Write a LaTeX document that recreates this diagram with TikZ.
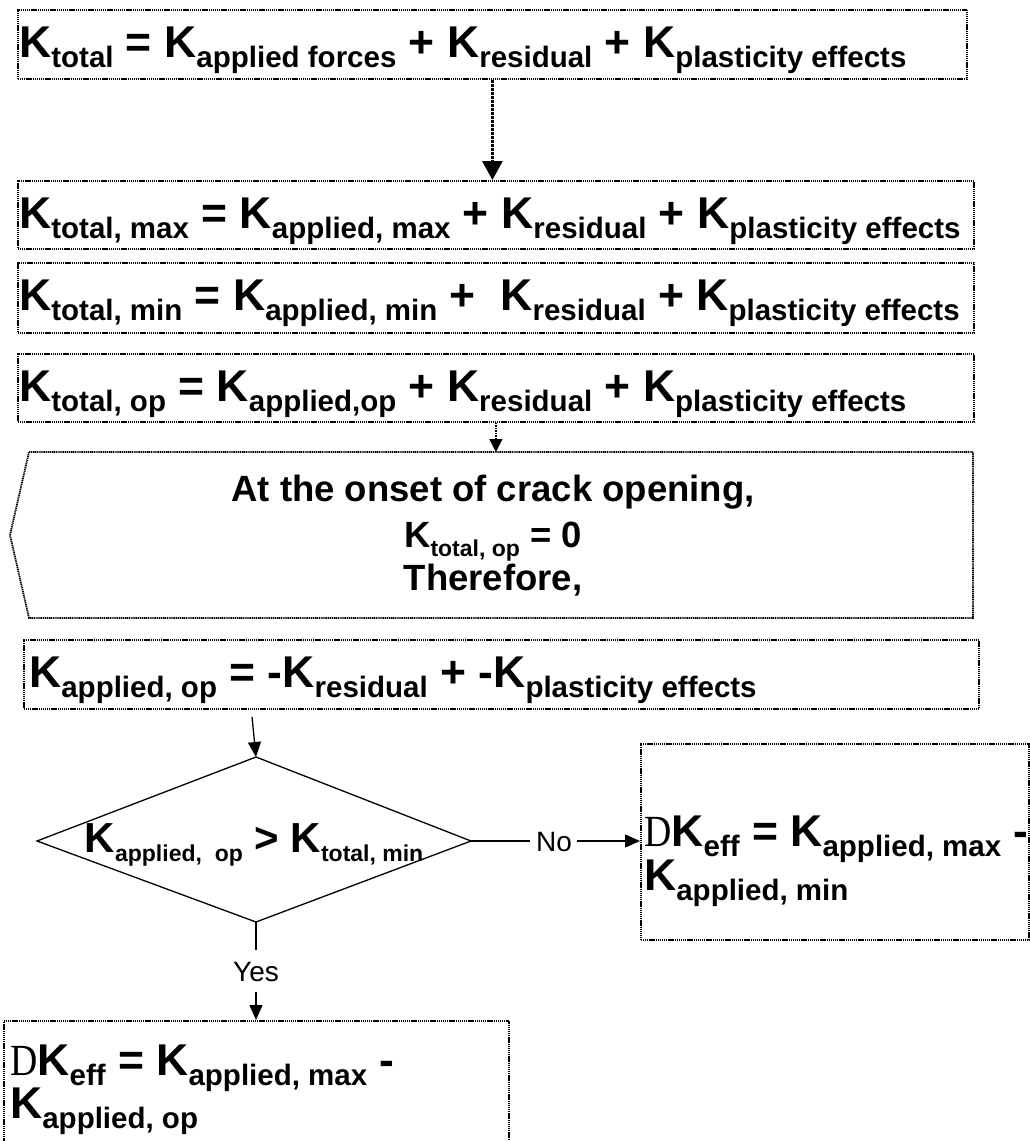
\documentclass[tikz,border=0pt]{standalone}
\usepackage{fontspec}
\setmainfont{Liberation Sans}
\newfontfamily\serifD{Liberation Serif}
\usetikzlibrary{arrows.meta,calc}
\newcommand{\Kb}[1]{K{\fontsize{29.5}{29.5}\selectfont\raisebox{-10pt}{#1}}}
\newcommand{\Kp}[1]{K{\fontsize{23}{23}\selectfont\raisebox{-9pt}{#1}}}
\newcommand{\Dl}{{\serifD\mdseries\scalebox{0.85}[1]{D}}}
\begin{document}
\begin{tikzpicture}[x=1pt,y=-1pt,
  box/.style={draw=black, line width=1.8pt, dash pattern=on 1.2pt off 0.7pt, inner sep=0pt, anchor=north west},
  eq/.style={inner sep=0pt, anchor=base west, font=\bfseries\fontsize{44.5}{44.5}\selectfont},
  ptxt/.style={inner sep=0pt, anchor=base, font=\bfseries\fontsize{36.5}{36.5}\selectfont},
  dtxt/.style={inner sep=0pt, anchor=base, font=\bfseries\fontsize{42}{42}\selectfont},
  lab/.style={inner sep=0pt, font=\fontsize{28}{28}\selectfont, text height=21pt, text depth=0pt},
  arr/.style={line width=1.3pt, -{Triangle[length=15pt,width=13pt]}},
  plain/.style={line width=1.3pt}]
\useasboundingbox (0,0) rectangle (1030,1141);

% boxes
\node[box, minimum width=949pt, minimum height=69pt] (b1) at (17,9) {};
\node[box, minimum width=956pt, minimum height=68pt] (b2) at (17,180) {};
\node[box, minimum width=956pt, minimum height=70pt] (b3) at (17,262) {};
\node[box, minimum width=956pt, minimum height=68pt] (b4) at (17,353) {};
\node[box, minimum width=955pt, minimum height=69pt] (b6) at (23,639) {};
\node[box, minimum width=388pt, minimum height=196pt] (b7) at (640,743) {};
\node[box, minimum width=505pt, minimum height=135pt] (b8) at (3,1020) {};

% pentagon
\coordinate (ptl) at (29,452);
\coordinate (ptr) at (973,452);
\coordinate (pbr) at (973,618);
\coordinate (pbl) at (29,618);
\coordinate (pl) at (10,535);
\coordinate (ptop) at (493,452);
\draw[draw=black, line width=1.8pt, dash pattern=on 1.2pt off 0.7pt] (ptl) -- (ptr) -- (pbr) -- (pbl) -- (pl) -- cycle;

% diamond
\coordinate (dtop) at (256,757);
\coordinate (dleft) at (37,841);
\coordinate (dright) at (471,841);
\coordinate (dbot) at (256,922);
\draw[line width=1.3pt] (dtop) -- (dright) -- (dbot) -- (dleft) -- cycle;

% texts
\node[eq] (t1) at (19,57) {\Kb{total} = \Kb{applied forces} + \Kb{residual} + \Kb{plasticity effects}};
\node[eq] (t2) at (19,228) {\Kb{total, max} = \Kb{applied, max} + \Kb{residual} + \Kb{plasticity effects}};
\node[eq] (t3) at (19,310) {\Kb{total, min} = \Kb{applied, min} +\ \ \Kb{residual} + \Kb{plasticity effects}};
\node[eq] (t4) at (19,401) {\Kb{total, op} = \Kb{applied,op} + \Kb{residual} + \Kb{plasticity effects}};
\node[ptxt] (p1) at (493,501) {At the onset of crack opening,};
\node[ptxt] (p2) at (493,547) {\Kp{total, op} = 0};
\node[ptxt] (p3) at (493,590) {Therefore,};
\node[eq] (t6) at (29,687) {\Kb{applied, op} = -\Kb{residual} + -\Kb{plasticity effects}};
\node[dtxt] (dt) at (254,852) {\Kp{applied,\ \ op} > \Kp{total, min}};
\node[eq] (t7a) at (644,846) {\Dl\Kb{eff} = \Kb{applied, max} -};
\node[eq] (t7b) at (644,890) {\Kb{applied, min}};
\node[eq] (t8a) at (10,1075) {\Dl\Kb{eff} = \Kb{applied, max} -};
\node[eq] (t8b) at (10,1118) {\Kb{applied, op}};

% labels
\node[lab] (no) at (554,841) {No};
\node[lab] (yes) at (256,971) {Yes};

% connectors
\draw[line width=3pt, densely dotted, -{Triangle[length=19pt,width=20pt]}] (b1.south) -- (b1.south |- b2.north);
\draw[line width=1.5pt, densely dotted, -{Triangle[length=13pt,width=13pt]}] (b4.south) -- (b4.south |- ptop);
\draw[arr] ([shift={(229pt,-7pt)}]b6.south west) -- (dtop);
\draw[plain] (dright) -- ([xshift=-6pt]no.west |- dright);
\draw[arr] ([xshift=5pt]no.east |- dright) -- (dright -| b7.west);
\draw[plain] (dbot) -- ([yshift=10pt]yes.north);
\draw[arr] ([yshift=-10pt]yes.south) -- (dbot |- b8.north);
\end{tikzpicture}
\end{document}
